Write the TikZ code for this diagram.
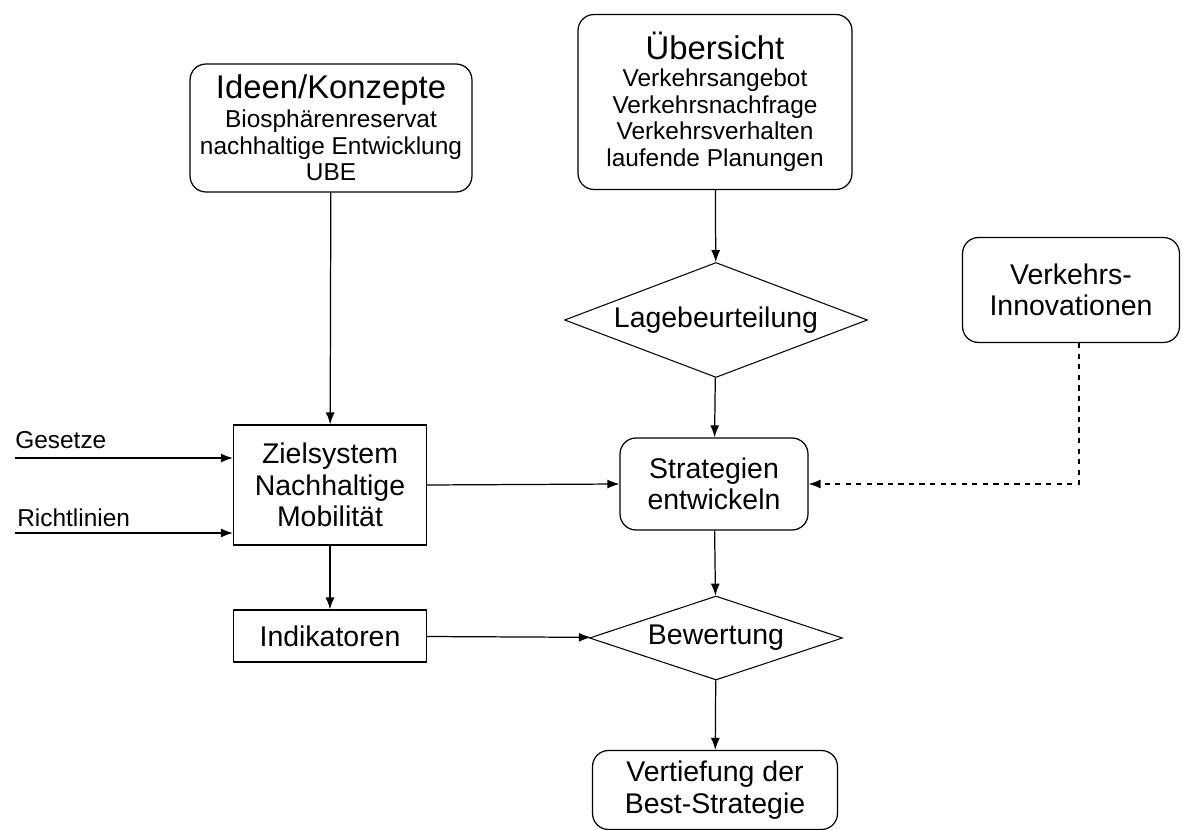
\documentclass[tikz,border=0pt]{standalone}
\usepackage{fontspec}
\setmainfont{Liberation Sans}
\usetikzlibrary{shapes.geometric,arrows.meta}

\begin{document}
\begin{tikzpicture}[x=0.02cm,y=-0.02cm,
    box/.style={shape=rectangle,draw=black,line width=0.7pt,align=center,inner sep=0pt,font=\fontsize{16.2}{18}\selectfont},
    rbox/.style={box,rounded corners=0.32cm},
    decision/.style={shape=diamond,draw=black,line width=0.6pt,inner sep=0pt,align=center,font=\fontsize{16.2}{18}\selectfont},
    sub/.style={font=\fontsize{13.9}{15.2}\selectfont},
    input/.style={inner sep=0pt,font=\fontsize{13.9}{15}\selectfont},
    arr/.style={-{Latex[length=0.24cm,width=0.18cm]},line width=0.7pt}
]
    \useasboundingbox (0,0) rectangle (1192,830);

    \node[rbox,sub,minimum width=5.64cm,minimum height=2.56cm] (ideen) at (331,128) {{\fontsize{18.7}{20}\selectfont Ideen/Konzepte}\\[1pt]Biosphärenreservat\\nachhaltige Entwicklung\\UBE};
    \node[rbox,sub,minimum width=5.48cm,minimum height=3.5cm] (uebersicht) at (715,102) {{\fontsize{18.7}{20}\selectfont Übersicht}\\Verkehrsangebot\\Verkehrsnachfrage\\Verkehrsverhalten\\laufende Planungen};
    \node[decision,aspect=2.63,minimum width=6.06cm,minimum height=2.3cm] (lage) at (716,320) {Lagebeurteilung};
    \node[rbox,minimum width=4.34cm,minimum height=2.1cm] (innov) at (1071,290) {Verkehrs-\\Innovationen};
    \node[rbox,minimum width=3.76cm,minimum height=1.84cm] (strat) at (714,484) {Strategien\\entwickeln};
    \node[box,minimum width=3.86cm,minimum height=2.4cm] (ziel) at (330,485) {Zielsystem\\Nachhaltige\\Mobilität};
    \node[box,minimum width=3.86cm,minimum height=1.04cm] (indik) at (330,636) {Indikatoren};
    \node[decision,aspect=3,minimum width=5.06cm,minimum height=1.68cm] (bewert) at (716,638) {Bewertung};
    \node[rbox,minimum width=4.9cm,minimum height=1.58cm] (vert) at (715,790) {Vertiefung der\\Best-Strategie};

    \node[input,anchor=base west] (gesetze) at (15,449) {Gesetze};
    \node[input,anchor=base west] (richtlinien) at (17,526) {Richtlinien};
    \coordinate (gesetzein) at (15,458);
    \coordinate (richtlinienin) at (15,533);

    \draw[arr] (gesetzein) -- (gesetzein -| ziel.west);
    \draw[arr] (richtlinienin) -- (richtlinienin -| ziel.west);
    \draw[arr] (ideen) -- (ziel);
    \draw[arr] (uebersicht) -- (lage);
    \draw[arr] (lage) -- (strat);
    \draw[arr] (ziel.east) -- (strat.west);
    \draw[arr,dashed] ([xshift=0.16cm]innov.south) |- (strat.east);
    \draw[arr] (strat) -- (bewert);
    \draw[arr] (ziel) -- (indik);
    \draw[arr] (indik) -- (bewert);
    \draw[arr] (bewert) -- (vert);

\end{tikzpicture}
\end{document}
